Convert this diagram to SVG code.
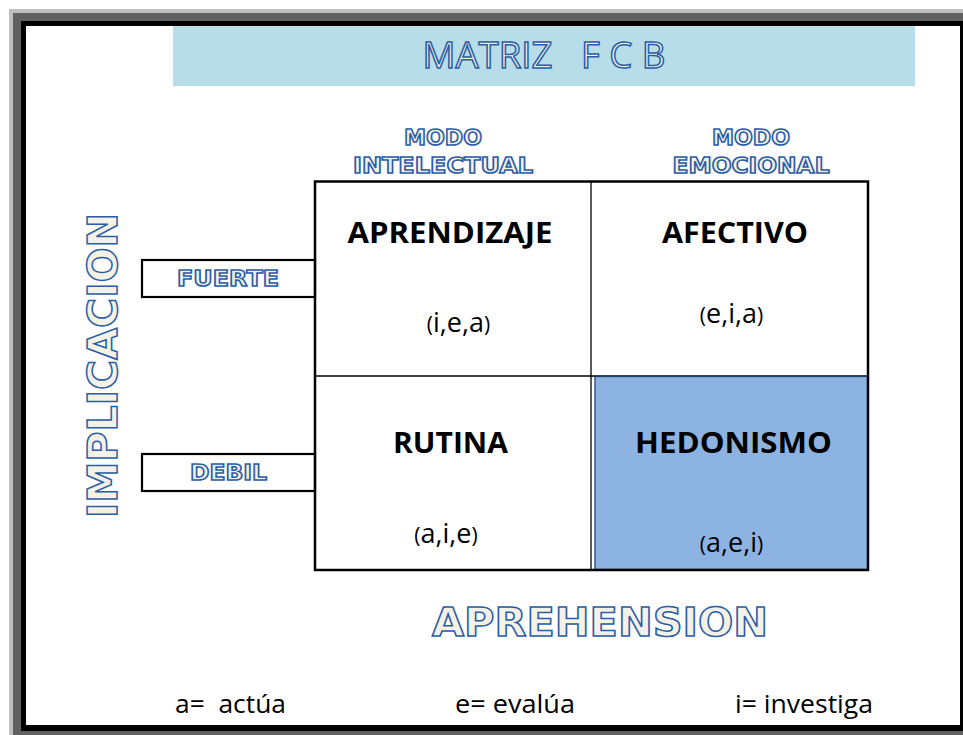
<svg xmlns="http://www.w3.org/2000/svg" width="963" height="735" viewBox="0 0 963 735">
<style>
.out{font-family:"DejaVu Sans","Liberation Sans",Arial,sans-serif;font-weight:bold;fill:#F4F1E6;stroke:#2B5DA6;stroke-width:1.5;text-anchor:middle}
.cell{font-family:"Open Sans","Noto Sans",sans-serif;font-weight:bold;font-size:29px;fill:#000;text-anchor:middle}
.sub{font-family:"Open Sans","Noto Sans",sans-serif;font-size:27px;fill:#000;text-anchor:middle}
.par{font-size:21px}
.leg{font-family:"Open Sans","Noto Sans",sans-serif;font-size:26px;fill:#000}
.box{fill:#fff;stroke:#000;stroke-width:2.2}
</style>
<g id="frame">
<rect x="9" y="9" width="954" height="726" fill="#BFBFBF"/>
<rect x="13" y="13" width="950" height="722" fill="#606060"/>
<rect x="21" y="21" width="942" height="710" fill="#000"/>
<rect x="26" y="26" width="934" height="699" fill="#fff"/>
</g>
<g id="title">
<rect x="173" y="26" width="742" height="60" fill="#B7DDE8"/>
<text x="544" y="68" class="out" style="font-family:'Open Sans','Noto Sans',sans-serif;font-weight:normal;font-size:36px" xml:space="preserve" textLength="243" lengthAdjust="spacingAndGlyphs">MATRIZ   F C B</text>
</g>
<g id="header-intelectual">
<text x="443" y="145" class="out" font-size="21" textLength="78" lengthAdjust="spacingAndGlyphs">MODO</text>
<text x="443" y="173" class="out" font-size="21" textLength="180" lengthAdjust="spacingAndGlyphs">INTELECTUAL</text>
</g>
<g id="header-emocional">
<text x="751" y="145" class="out" font-size="21" textLength="78" lengthAdjust="spacingAndGlyphs">MODO</text>
<text x="751" y="173" class="out" font-size="21" textLength="157" lengthAdjust="spacingAndGlyphs">EMOCIONAL</text>
</g>
<g id="axis-implicacion">
<text transform="translate(117,365.5) rotate(-90)" x="0" y="0" class="out" font-size="41" textLength="305" lengthAdjust="spacingAndGlyphs">IMPLICACION</text>
</g>
<g id="axis-aprehension">
<text x="600" y="636" class="out" font-size="39" textLength="336" lengthAdjust="spacingAndGlyphs">APREHENSION</text>
</g>
<g id="fuerte">
<rect class="box" x="142" y="260" width="173" height="37"/>
<text x="228" y="286" class="out" font-size="21" textLength="102" lengthAdjust="spacingAndGlyphs">FUERTE</text>
</g>
<g id="debil">
<rect class="box" x="142" y="454" width="173" height="37"/>
<text x="228.5" y="480" class="out" font-size="21" textLength="77" lengthAdjust="spacingAndGlyphs">DEBIL</text>
</g>
<g id="cell-hedonismo-bg">
<rect x="595" y="376.5" width="273" height="193" fill="#8DB3E2" stroke="#385D8A" stroke-width="1.5"/>
</g>
<g id="connectors">
<line x1="591" y1="181" x2="591" y2="570" stroke="#000" stroke-width="1.3"/>
<line x1="315" y1="376" x2="595" y2="376" stroke="#000" stroke-width="1.3"/>
<line x1="595" y1="375.8" x2="868" y2="375.8" stroke="#000" stroke-width="1"/>
<rect x="315" y="181.5" width="553" height="388.5" fill="none" stroke="#000" stroke-width="2.5"/>
</g>
<g id="cell-aprendizaje">
<text x="450" y="243" class="cell" textLength="205" lengthAdjust="spacingAndGlyphs">APRENDIZAJE</text>
<text x="458.5" y="332" class="sub"><tspan class="par">(</tspan>i,e,a<tspan class="par">)</tspan></text>
</g>
<g id="cell-afectivo">
<text x="735" y="243" class="cell" textLength="146" lengthAdjust="spacingAndGlyphs">AFECTIVO</text>
<text x="731.5" y="323" class="sub"><tspan class="par">(</tspan>e,i,a<tspan class="par">)</tspan></text>
</g>
<g id="cell-rutina">
<text x="450.5" y="453" class="cell" textLength="115" lengthAdjust="spacingAndGlyphs">RUTINA</text>
<text x="446" y="543" class="sub"><tspan class="par">(</tspan>a,i,e<tspan class="par">)</tspan></text>
</g>
<g id="cell-hedonismo">
<text x="733.5" y="453" class="cell" textLength="197" lengthAdjust="spacingAndGlyphs">HEDONISMO</text>
<text x="731.5" y="552" class="sub"><tspan class="par">(</tspan>a,e,i<tspan class="par">)</tspan></text>
</g>
<g id="legend">
<text x="175" y="713" class="leg" xml:space="preserve" textLength="111" lengthAdjust="spacingAndGlyphs">a=  actúa</text>
<text x="455" y="713" class="leg" textLength="120" lengthAdjust="spacingAndGlyphs">e= evalúa</text>
<text x="735" y="713" class="leg" textLength="138" lengthAdjust="spacingAndGlyphs">i= investiga</text>
</g>
</svg>
